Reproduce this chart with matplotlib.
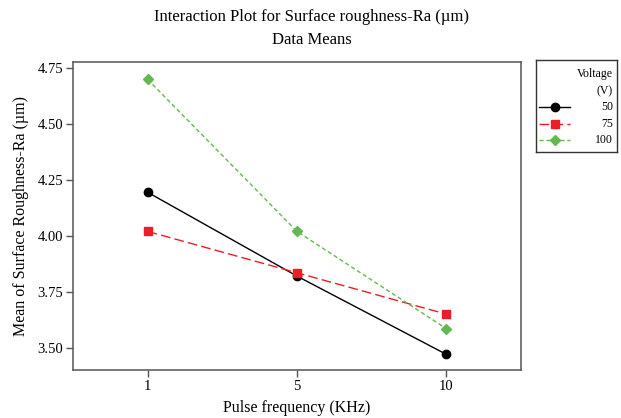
import matplotlib
matplotlib.use("Agg")
import matplotlib.pyplot as plt

# data
freq_labels = ["1", "5", "10"]
voltages = ["50", "75", "100"]
ra_50 = [4.195, 3.82, 3.47]
ra_75 = [4.02, 3.835, 3.65]
ra_100 = [4.70, 4.02, 3.585]
yticks = [3.50, 3.75, 4.00, 4.25, 4.50, 4.75]

series = [ra_50, ra_75, ra_100]
styles = [
    dict(color="black", ls="-", marker="o", ms=6, lw=1.0, dashes=()),
    dict(color="#ee1c25", ls="--", marker="s", ms=6, lw=1.0, dashes=(7, 3)),
    dict(color="#63b94f", ls="--", marker="D", ms=5.5, lw=1.0, dashes=(3, 2)),
]

plt.rcParams["font.family"] = ["Liberation Serif", "DejaVu Serif"]

fig = plt.figure(figsize=(6.21, 4.18), dpi=100)
W, H = 621, 418
ax = fig.add_axes([73 / W, 1 - 370 / H, (521 - 73) / W, (370 - 62) / H])

x = list(range(len(freq_labels)))
for vals, st in zip(series, styles):
    st = dict(st)
    d = st.pop("dashes")
    line, = ax.plot(x, vals, **st)
    if d:
        line.set_dashes(d)

ax.set_xlim(-0.5, 2.5)
ax.set_ylim(3.40, 4.778)
ax.set_xticks(x)
ax.set_xticklabels(freq_labels)
ax.set_yticks(yticks)
ax.set_yticklabels([f"{v:.2f}" for v in yticks])
ax.tick_params(labelsize=10.5, length=5, width=1, color="#555555", pad=2)
for s in ax.spines.values():
    s.set_color("#555555")
    s.set_linewidth(1.1)
ax.set_xlabel("Pulse frequency (KHz)", fontsize=11.5, labelpad=5)
ax.set_ylabel("Mean of Surface Roughness-Ra (µm)", fontsize=11.5, labelpad=6)

fig.text(312 / W, 1 - 17 / H, "Interaction Plot for Surface roughness-Ra (µm)",
         ha="center", va="center", fontsize=12)
fig.text(312 / W, 1 - 40 / H, "Data Means", ha="center", va="center", fontsize=12)

# legend box drawn by hand to get the right-aligned layout
lx0, lx1, ly0, ly1 = 536, 617, 60, 152
lax = fig.add_axes([lx0 / W, 1 - ly1 / H, (lx1 - lx0) / W, (ly1 - ly0) / H])
lax.set_xlim(lx0, lx1)
lax.set_ylim(ly1, ly0)
lax.set_xticks([])
lax.set_yticks([])
for s in lax.spines.values():
    s.set_color("#333333")
    s.set_linewidth(1.0)
lax.text(613, 74, "Voltage", ha="right", va="center", fontsize=8.5)
lax.text(613, 91, "(V)", ha="right", va="center", fontsize=8.5)
rows = [107, 124, 140]
for lab, st, yy in zip(voltages, styles, rows):
    st = dict(st)
    d = st.pop("dashes")
    ln, = lax.plot([539, 570], [yy, yy], **{k: v for k, v in st.items() if k != "marker"})
    if d:
        ln.set_dashes(d)
    lax.plot([555], [yy], marker=st["marker"], color=st["color"], ms=st["ms"], ls="none")
    lax.text(613, yy, lab, ha="right", va="center", fontsize=8.5)

fig.savefig("out.png", dpi=100)
